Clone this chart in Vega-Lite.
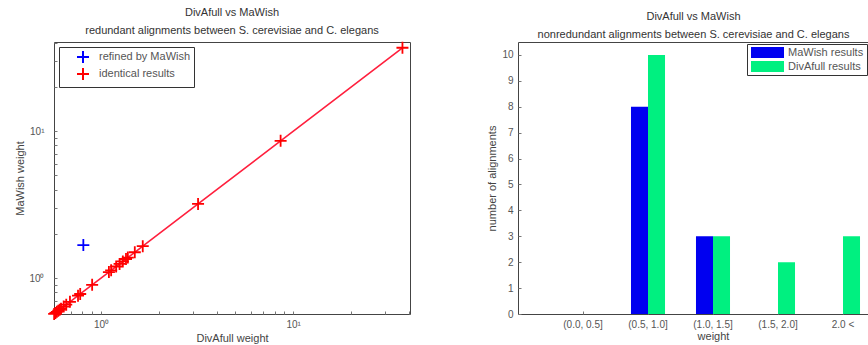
{
  "$schema": "https://vega.github.io/schema/vega-lite/v6.json",
  "background": "white",
  "padding": {"left": 14, "top": 6, "right": 0, "bottom": 0},
  "spacing": 73,
  "config": {
    "font": "Liberation Sans",
    "view": {"stroke": "#444", "strokeWidth": 1},
    "title": {"fontSize": 11, "fontWeight": "normal", "color": "#333", "font": "Liberation Sans", "lineHeight": 18, "offset": 2, "anchor": "middle"},
    "axis": {"domain": false, "grid": false, "labelFont": "Liberation Sans", "labelFontSize": 10, "labelColor": "#555", "titleFont": "Liberation Sans", "titleFontSize": 11, "titleFontWeight": "normal", "titleColor": "#444", "tickColor": "#777", "tickSize": -3, "labelPadding": 8},
    "legend": {"labelFont": "Liberation Sans", "labelFontSize": 11, "labelColor": "#555"}
  },
  "datasets": {
    "scatter": [
      {"divafull": 0.571, "mawish": 0.571, "result": "identical results"},
      {"divafull": 0.58, "mawish": 0.58, "result": "identical results"},
      {"divafull": 0.59, "mawish": 0.59, "result": "identical results"},
      {"divafull": 0.6, "mawish": 0.6, "result": "identical results"},
      {"divafull": 0.61, "mawish": 0.61, "result": "identical results"},
      {"divafull": 0.62, "mawish": 0.62, "result": "identical results"},
      {"divafull": 0.64, "mawish": 0.64, "result": "identical results"},
      {"divafull": 0.66, "mawish": 0.66, "result": "identical results"},
      {"divafull": 0.69, "mawish": 0.69, "result": "identical results"},
      {"divafull": 0.76, "mawish": 0.76, "result": "identical results"},
      {"divafull": 0.78, "mawish": 0.78, "result": "identical results"},
      {"divafull": 0.9, "mawish": 0.9, "result": "identical results"},
      {"divafull": 1.1, "mawish": 1.1, "result": "identical results"},
      {"divafull": 1.13, "mawish": 1.13, "result": "identical results"},
      {"divafull": 1.2, "mawish": 1.2, "result": "identical results"},
      {"divafull": 1.25, "mawish": 1.25, "result": "identical results"},
      {"divafull": 1.3, "mawish": 1.3, "result": "identical results"},
      {"divafull": 1.35, "mawish": 1.35, "result": "identical results"},
      {"divafull": 1.38, "mawish": 1.38, "result": "identical results"},
      {"divafull": 1.5, "mawish": 1.5, "result": "identical results"},
      {"divafull": 1.65, "mawish": 1.65, "result": "identical results"},
      {"divafull": 3.2, "mawish": 3.2, "result": "identical results"},
      {"divafull": 8.6, "mawish": 8.6, "result": "identical results"},
      {"divafull": 37, "mawish": 37, "result": "identical results"},
      {"divafull": 0.81, "mawish": 1.68, "result": "refined by MaWish"}
    ],
    "bars": [
      {"bin": "(0.0, 0.5]", "series": "MaWish results", "count": 0},
      {"bin": "(0.0, 0.5]", "series": "DivAfull results", "count": 0},
      {"bin": "(0.5, 1.0]", "series": "MaWish results", "count": 8},
      {"bin": "(0.5, 1.0]", "series": "DivAfull results", "count": 10},
      {"bin": "(1.0, 1.5]", "series": "MaWish results", "count": 3},
      {"bin": "(1.0, 1.5]", "series": "DivAfull results", "count": 3},
      {"bin": "(1.5, 2.0]", "series": "MaWish results", "count": 0},
      {"bin": "(1.5, 2.0]", "series": "DivAfull results", "count": 2},
      {"bin": "2.0 <", "series": "MaWish results", "count": 0},
      {"bin": "2.0 <", "series": "DivAfull results", "count": 3}
    ]
  },
  "resolve": {"scale": {"color": "independent"}, "legend": {"color": "independent"}},
  "hconcat": [
    {
      "width": 356,
      "height": 272,
      "title": {"text": ["DivAfull vs MaWish", "redundant alignments between S. cerevisiae and C. elegans"]},
      "data": {"name": "scatter"},
      "layer": [
        {
          "transform": [{"filter": "datum.result == 'identical results'"}],
          "mark": {"type": "line", "color": "#ff1f3d", "strokeWidth": 1.6},
          "encoding": {
            "x": {"field": "divafull", "type": "quantitative", "scale": {"type": "log", "domain": [0.57, 40.5], "nice": false}},
            "y": {"field": "mawish", "type": "quantitative", "scale": {"type": "log", "domain": [0.57, 40.5], "nice": false}},
            "order": {"field": "divafull", "type": "quantitative"}
          }
        },
        {
          "mark": {"type": "point", "shape": "M-1,0H1M0,-1V1", "filled": false, "strokeWidth": 1.8, "size": 144, "opacity": 1, "clip": false},
          "encoding": {
            "x": {"field": "divafull", "type": "quantitative", "scale": {"type": "log", "domain": [0.57, 40.5], "nice": false},
              "axis": {"title": "DivAfull weight", "values": [0.6, 0.7, 0.8, 0.9, 1, 2, 3, 4, 5, 6, 7, 8, 9, 10, 20, 30, 40], "labelExpr": "datum.value == 1 ? '10⁰' : datum.value == 10 ? '10¹' : ''", "titlePadding": 3}},
            "y": {"field": "mawish", "type": "quantitative", "scale": {"type": "log", "domain": [0.57, 40.5], "nice": false},
              "axis": {"title": "MaWish weight", "values": [0.6, 0.7, 0.8, 0.9, 1, 2, 3, 4, 5, 6, 7, 8, 9, 10, 20, 30, 40], "labelExpr": "datum.value == 1 ? '10⁰' : datum.value == 10 ? '10¹' : ''", "labelPadding": 13, "titlePadding": 3}},
            "color": {"field": "result", "type": "nominal",
              "scale": {"domain": ["refined by MaWish", "identical results"], "range": ["#0000ff", "#ff0000"]},
              "legend": {"title": null, "orient": "top-left", "offset": 5, "padding": 3, "symbolType": "M-1,0H1M0,-1V1", "symbolSize": 144, "symbolStrokeWidth": 2, "symbolOffset": 14, "labelOffset": 9, "rowPadding": -3, "strokeColor": "#333", "fillColor": "white"}}
          }
        }
      ]
    },
    {
      "width": 351,
      "height": 272,
      "title": {"text": ["DivAfull vs MaWish", "nonredundant alignments between S. cerevisiae and C. elegans"]},
      "data": {"name": "bars"},
      "mark": {"type": "bar"},
      "encoding": {
        "x": {"field": "bin", "type": "ordinal", "sort": null,
          "scale": {"range": [0, 390], "paddingInner": 0, "paddingOuter": 0.5},
          "axis": {"title": "weight", "labelAngle": 0, "titlePadding": 1}},
        "xOffset": {"field": "series", "type": "nominal", "sort": ["MaWish results", "DivAfull results"],
          "scale": {"paddingInner": 0, "paddingOuter": 0.91}},
        "y": {"field": "count", "type": "quantitative", "scale": {"domain": [0, 10.5], "nice": false},
          "axis": {"title": "number of alignments", "values": [0, 1, 2, 3, 4, 5, 6, 7, 8, 9, 10], "titlePadding": 4}},
        "color": {"field": "series", "type": "nominal",
          "scale": {"domain": ["MaWish results", "DivAfull results"], "range": ["#0000f0", "#00f080"]},
          "legend": {"title": null, "orient": "top-right", "offset": 2, "padding": 3, "symbolType": "M-3,-1H3V1H-3Z", "symbolSize": 121, "symbolStrokeWidth": 0, "symbolOffset": 12, "labelOffset": 15, "rowPadding": 2, "strokeColor": "#333", "fillColor": "white"}}
      }
    }
  ]
}
